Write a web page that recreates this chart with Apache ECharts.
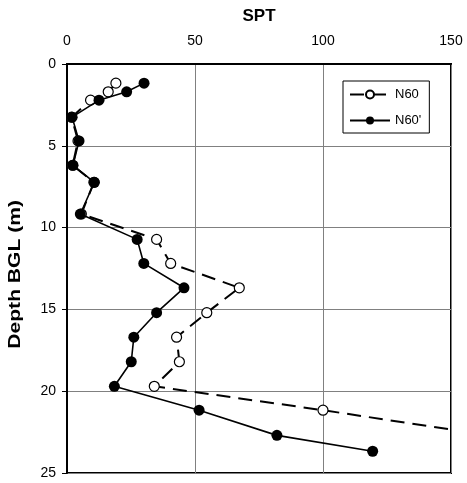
<!DOCTYPE html>
<html>
<head>
<meta charset="utf-8">
<script src="https://cdn.jsdelivr.net/npm/echarts@6/dist/echarts.min.js"></script>
<style>
html,body{margin:0;padding:0;background:#fff;}
#chart{width:467px;height:483px;}
</style>
</head>
<body>
<div id="chart"></div>
<script>
// Depth below ground level (m)
var depth = [1.17, 1.70, 2.21, 3.25, 4.70, 6.19, 7.23, 9.17, 10.72, 12.19, 13.68, 15.2, 16.7, 18.2, 19.7, 21.16, 22.7, 23.67];
// N60 (open markers, dashed) – last visible point leaves the chart to the right
var n60 = [19.1, 16.1, 9.2, 1.8, 4.3, 2.2, 10.5, 5.6, 35.0, 40.5, 67.3, 54.6, 42.8, 43.9, 34.1, 100, 165];
// N60' (filled markers, solid)
var n60c = [30.1, 23.3, 12.5, 2.0, 4.7, 2.35, 10.7, 5.2, 27.4, 30.0, 45.7, 35.0, 26.1, 25.1, 18.5, 51.6, 82.0, 119.4];
var xTicks = [0, 50, 100, 150];
var yTicks = [0, 5, 10, 15, 20, 25];

function pairs(vals) {
  var out = [];
  for (var i = 0; i < vals.length; i++) out.push([vals[i], depth[i]]);
  return out;
}

var FONT = '"Liberation Sans", Arial, sans-serif';
var chart = echarts.init(document.getElementById('chart'), null, {renderer: 'canvas'});
chart.setOption({
  animation: false,
  backgroundColor: '#fff',
  grid: {left: 67, right: 16, top: 64, bottom: 10, show: true, borderColor: '#000', borderWidth: 2, containLabel: false, outerBoundsMode: 'none'},
  legend: {
    left: 343, top: 81,
    orient: 'vertical',
    backgroundColor: '#fff',
    borderColor: '#000', borderWidth: 1, borderRadius: 0,
    padding: [7, 8, 6, 6],
    itemWidth: 40, itemHeight: 10, itemGap: 13,
    textStyle: {fontFamily: FONT, fontSize: 13, color: '#000'},
    data: ['N60', "N60'"]
  },
  graphic: [{
    type: 'text',
    left: 7, top: 200,
    rotation: Math.PI / 2,
    scaleX: 1.24,
    style: {text: 'Depth BGL (m)', font: 'bold 17px "Liberation Sans", Arial, sans-serif', fill: '#000'}
  }],
  xAxis: {
    type: 'value', position: 'top',
    min: xTicks[0], max: xTicks[xTicks.length - 1], interval: 50,
    name: 'SPT', nameLocation: 'middle', nameGap: 39,
    nameTextStyle: {fontFamily: FONT, fontSize: 17, fontWeight: 'bold', color: '#000'},
    axisLine: {show: true, lineStyle: {color: '#000', width: 2}},
    axisTick: {show: false},
    axisLabel: {margin: 16, fontFamily: FONT, fontSize: 14, color: '#000'},
    splitLine: {show: true, lineStyle: {color: '#808080', width: 1}}
  },
  yAxis: {
    type: 'value', inverse: true,
    min: yTicks[0], max: yTicks[yTicks.length - 1], interval: 5,
    axisLine: {show: true, lineStyle: {color: '#000', width: 2}},
    axisTick: {show: true, inside: false, length: 5, lineStyle: {color: '#000', width: 1}},
    axisLabel: {margin: 11, fontFamily: FONT, fontSize: 14, color: '#000'},
    splitLine: {show: true, lineStyle: {color: '#808080', width: 1}}
  },
  series: [
    {
      name: 'N60', type: 'line', z: 2,
      data: pairs(n60),
      symbol: 'circle', symbolSize: 10,
      itemStyle: {color: '#fff', borderColor: '#000', borderWidth: 1.2},
      lineStyle: {color: '#000', width: 2, type: [14, 8]},
      clip: true
    },
    {
      name: "N60'", type: 'line', z: 3,
      data: pairs(n60c),
      symbol: 'circle', symbolSize: 11,
      itemStyle: {color: '#000', borderColor: '#000', borderWidth: 0},
      lineStyle: {color: '#000', width: 1.6, type: 'solid'},
      clip: true
    }
  ]
});
</script>
</body>
</html>
